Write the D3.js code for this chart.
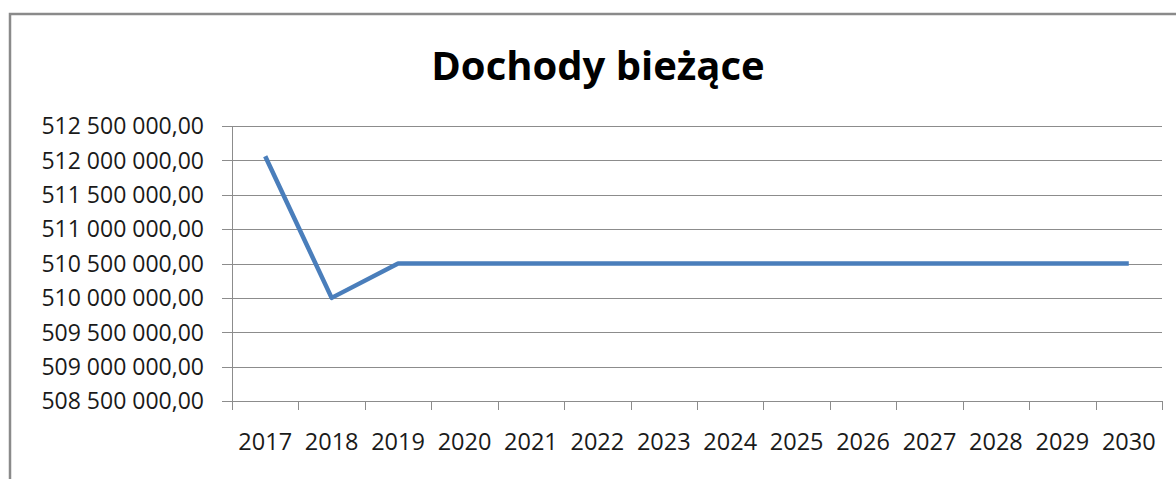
<!DOCTYPE html>
<html>
<head>
<meta charset="utf-8">
<script src="https://cdn.jsdelivr.net/npm/d3@7"></script>
<style>
  body { margin: 0; background: #fff; }
  svg { display: block; }
</style>
</head>
<body>
<svg id="chart" width="1176" height="479"></svg>
<script>
var title = "Dochody bieżące";
var years = ["2017", "2018", "2019", "2020", "2021", "2022", "2023",
             "2024", "2025", "2026", "2027", "2028", "2029", "2030"];
var values = [512060000, 510000000, 510500000, 510500000, 510500000, 510500000, 510500000,
              510500000, 510500000, 510500000, 510500000, 510500000, 510500000, 510500000];
var yTicks = [508500000, 509000000, 509500000, 510000000, 510500000,
              511000000, 511500000, 512000000, 512500000];

var svg = d3.select("#chart");
var font = "'Open Sans', 'Noto Sans', sans-serif";

// chart frame
svg.append("rect")
  .attr("x", 10).attr("y", 14)
  .attr("width", 1180).attr("height", 480)
  .attr("fill", "none")
  .attr("stroke", "#8a8a8a")
  .attr("stroke-width", 2.5);

var plotL = 232, plotR = 1162, plotT = 126, plotB = 401;

var x = d3.scaleBand().domain(years).range([plotL, plotR]);
var y = d3.scaleLinear().domain([508500000, 512500000]).range([plotB, plotT]);

function fmt(v) {
  var s = d3.format(",.2f")(v);
  return s.replace(/,/g, " ").replace(".", ",");
}

// gridlines
svg.append("g").selectAll("line").data(yTicks).enter().append("line")
  .attr("x1", plotL - 10).attr("x2", plotR)
  .attr("y1", d => Math.round(y(d)) + 0.5)
  .attr("y2", d => Math.round(y(d)) + 0.5)
  .attr("stroke", "#8c8c8c")
  .attr("stroke-width", 1);

// y axis line
svg.append("line")
  .attr("x1", plotL + 0.5).attr("x2", plotL + 0.5)
  .attr("y1", plotT).attr("y2", plotB + 9)
  .attr("stroke", "#8c8c8c");

// x tick marks at band edges
var edges = years.map(d => x(d)).concat([plotR]);
svg.append("g").selectAll("line").data(edges.slice(1)).enter().append("line")
  .attr("x1", d => Math.round(d) + 0.5).attr("x2", d => Math.round(d) + 0.5)
  .attr("y1", plotB).attr("y2", plotB + 9)
  .attr("stroke", "#8c8c8c");

// y labels
svg.append("g").selectAll("text").data(yTicks).enter().append("text")
  .attr("x", 204)
  .attr("y", d => y(d))
  .attr("dy", "0.36em")
  .attr("text-anchor", "end")
  .style("font-family", font)
  .style("font-size", "23px")
  .style("fill", "#1a1a1a")
  .text(fmt);

// x labels
svg.append("g").selectAll("text").data(years).enter().append("text")
  .attr("x", d => x(d) + x.bandwidth() / 2)
  .attr("y", 450)
  .attr("text-anchor", "middle")
  .style("font-family", font)
  .style("font-size", "23.5px")
  .style("fill", "#1a1a1a")
  .text(d => d);

// series line
var line = d3.line()
  .x((d, i) => x(years[i]) + x.bandwidth() / 2)
  .y(d => y(d));

svg.append("path")
  .datum(values)
  .attr("d", line)
  .attr("fill", "none")
  .attr("stroke", "#4a7ebb")
  .attr("stroke-width", 4.5)
  .attr("stroke-linejoin", "round");

// title
svg.append("text")
  .attr("x", 598).attr("y", 80)
  .attr("text-anchor", "middle")
  .style("font-family", font)
  .style("font-weight", "bold")
  .style("font-size", "40px")
  .style("fill", "#000")
  .text(title);
</script>
</body>
</html>
